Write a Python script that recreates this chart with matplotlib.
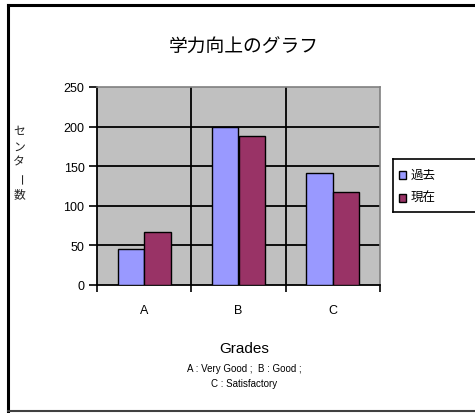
import matplotlib
matplotlib.use("Agg")
import matplotlib.pyplot as plt
from matplotlib.lines import Line2D
from matplotlib.patches import Rectangle

plt.rcParams['font.family'] = ['Noto Sans CJK JP', 'DejaVu Sans']

categories = ['A', 'B', 'C']
past = [45, 200, 142]
present = [67, 188, 118]
series_names = ['過去', '現在']
yticks = [0, 50, 100, 150, 200, 250]
title = '学力向上のグラフ'
ylabel_chars = ['セ', 'ン', 'タ', 'ー', '数']
xlabel = 'Grades'
note_lines = ['A : Very Good ;  B : Good ;', 'C : Satisfactory']

W, H = 475, 414
fig = plt.figure(figsize=(W / 100, H / 100), dpi=100)
fig.patch.set_facecolor('white')

def fx(px):
    return px / W

def fy(py):
    return 1 - py / H

# outer border
fig.add_artist(Line2D([fx(8), fx(476)], [fy(6), fy(6)], color='black', lw=2.2, transform=fig.transFigure))
fig.add_artist(Line2D([fx(8), fx(8)], [fy(6), fy(412)], color='black', lw=2.2, transform=fig.transFigure))
fig.add_artist(Line2D([fx(8), fx(476)], [fy(412), fy(412)], color='#404040', lw=1.5, transform=fig.transFigure))

ax = fig.add_axes([fx(97), fy(286), fx(380) - fx(97), (286 - 88) / H])
ax.set_facecolor('#C0C0C0')

x = list(range(len(categories)))
w = 0.28
ax.bar([i - w / 2 for i in x], past, width=w, color='#9999FF', edgecolor='black', linewidth=1.0, zorder=3)
ax.bar([i + w / 2 for i in x], present, width=w, color='#993366', edgecolor='black', linewidth=1.0, zorder=3)

ax.set_xlim(-0.5, len(categories) - 0.5)
ax.set_ylim(0, 250)
ax.set_yticks(yticks)
ax.set_yticklabels([str(v) for v in yticks], family='Liberation Sans', fontsize=9)
for v in yticks[1:-1]:
    ax.axhline(v, color='black', lw=1.3, zorder=2)
for b in [0.5, 1.5]:
    ax.axvline(b, color='black', lw=1.3, zorder=2)

ax.set_xticks([i - 0.5 for i in range(len(categories) + 1)])
ax.set_xticklabels([''] * (len(categories) + 1))
ax.set_xticks(x, minor=True)
ax.set_xticklabels(categories, minor=True, family='Liberation Sans', fontsize=9)
ax.tick_params(axis='x', which='minor', length=0, pad=14)
ax.tick_params(axis='x', which='major', length=5, direction='out', width=1.2)
ax.tick_params(axis='y', length=6, direction='out', width=1.2, pad=3)

for s in ['top', 'right']:
    ax.spines[s].set_color('#808080')
    ax.spines[s].set_linewidth(1.2)
for s in ['left', 'bottom']:
    ax.spines[s].set_color('black')
    ax.spines[s].set_linewidth(1.3)

# title
fig.text(fx(244), fy(47), title, ha='center', va='center', fontsize=13.5)

# vertical y label
ys = [132, 147, 162, 180, 195]
for ch, yy in zip(ylabel_chars, ys):
    rot = -90 if ch == 'ー' else 0
    fig.text(fx(19), fy(yy), ch, ha='center', va='center', fontsize=8.5, rotation=rot, color='#222222')

# x label and notes
fig.text(fx(244), fy(349), xlabel, ha='center', va='center', fontsize=11, family='Liberation Sans')
fig.text(fx(244), fy(369), note_lines[0], ha='center', va='center', fontsize=7, family='Liberation Sans')
fig.text(fx(244), fy(384), note_lines[1], ha='center', va='center', fontsize=7, family='Liberation Sans')

# legend
lax = fig.add_axes([fx(393), fy(213), fx(476) - fx(393), (213 - 160) / H])
lax.set_xlim(393, 476)
lax.set_ylim(213, 160)
lax.set_xticks([])
lax.set_yticks([])
for s in lax.spines.values():
    s.set_color('black')
    s.set_linewidth(1.2)
cols = ['#9999FF', '#993366']
for name, c, yy in zip(series_names, cols, [176, 199]):
    lax.add_patch(Rectangle((399, yy - 4), 7, 8, facecolor=c, edgecolor='black', lw=1))
    lax.text(411, yy - 1, name, ha='left', va='center', fontsize=9)

fig.savefig('out.png', dpi=100)
